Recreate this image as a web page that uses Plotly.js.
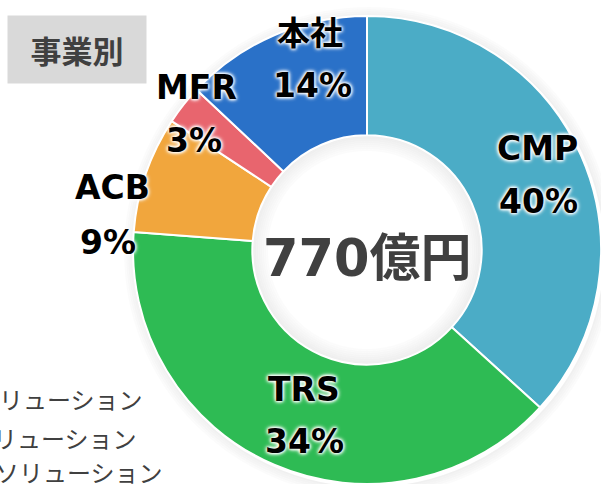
<!DOCTYPE html>
<html>
<head>
<meta charset="utf-8">
<script src="https://cdn.plot.ly/plotly-3.0.1.min.js"></script>
<style>
  html, body { margin: 0; padding: 0; background: #fff; }
  #chart { width: 601px; height: 484px; }
</style>
</head>
<body>
<div id="chart"></div>
<script>
// segments clockwise from 12 o'clock
var segments = ['CMP', 'TRS', 'ACB', 'MFR', '本社']
// slice sizes (億円) as drawn in the ring, total 770
var sales = [283, 304, 62, 21, 100]
// percentages as printed on the chart
var pctLabels = ['40%', '34%', '9%', '3%', '14%']
var segColors = ['#4BACC6', '#2EBB54', '#F1A63D', '#E8656E', '#2A71C8']
var totalLabel = '770億円'
var titleLabel = '事業別'
var legendLines = ['ソリューション', 'ソリューション', 'ソリューション']

var W = 601, H = 484
var M = {l: 133, r: 0, t: 16, b: 0}
var PW = W - M.l - M.r, PH = H - M.t - M.b

// pixel -> paper helpers
function px(x){ return (x - M.l) / PW }
function py(y){ return 1 - (y - M.t) / PH }

var labelFont = {
    family: 'DejaVu Sans, Noto Sans CJK JP, sans-serif',
    size: 33,
    color: '#000',
    weight: 700,
    shadow: '0 0 3px #fff, 0 0 3px #fff, 0 0 4px #fff, 0 0 5px #fff'
}

// label anchor points (name line, pct line)
var namePos = [[537, 148], [304, 389], [112, 187], [196, 87], [310, 34]]
var pctPos = [[538, 202], [304, 441], [108, 242], [194, 141], [312, 85]]

var annotations = []
for (let i = 0; i < segments.length; i++){
    annotations.push({
        x: px(namePos[i][0]), y: py(namePos[i][1]), xref: 'paper', yref: 'paper',
        text: segments[i], showarrow: false, font: labelFont,
        xanchor: 'center', yanchor: 'middle'
    })
    annotations.push({
        x: px(pctPos[i][0]), y: py(pctPos[i][1]), xref: 'paper', yref: 'paper',
        text: pctLabels[i], showarrow: false, font: labelFont,
        xanchor: 'center', yanchor: 'middle'
    })
}

// total in the hole
annotations.push({
    x: px(367), y: py(258), xref: 'paper', yref: 'paper',
    text: totalLabel, showarrow: false,
    font: {family: 'DejaVu Sans, Noto Sans CJK JP, sans-serif', size: 51, color: '#404040', weight: 700},
    xanchor: 'center', yanchor: 'middle'
})

// grey title box
annotations.push({
    x: px(77), y: py(49.5), xref: 'paper', yref: 'paper',
    text: titleLabel, showarrow: false,
    font: {family: 'Noto Sans CJK JP, sans-serif', size: 31, color: '#404040', weight: 700},
    bgcolor: '#D9D9D9', width: 136, height: 65,
    xanchor: 'center', yanchor: 'middle'
})

// cut-off legend text at bottom left
var legendRight = [145, 139, 165]
var legendY = [398, 437, 471]
for (let i = 0; i < legendLines.length; i++){
    annotations.push({
        x: px(legendRight[i]), y: py(legendY[i]), xref: 'paper', yref: 'paper',
        text: legendLines[i], showarrow: false,
        font: {family: 'Noto Sans CJK JP, sans-serif', size: 24, color: '#404040'},
        xanchor: 'right', yanchor: 'middle'
    })
}

// soft shadows: inside the hole and around the ring
var cx = 367, cy = 250, rIn = 115, rOut = 235
var shapes = []
for (let k = 0; k < 8; k++){
    let r = rIn - 1 - k * 2
    shapes.push({
        type: 'circle', xref: 'paper', yref: 'paper', layer: 'below',
        x0: px(cx - r), x1: px(cx + r), y0: py(cy + r), y1: py(cy - r),
        line: {color: 'rgba(0,0,0,' + (0.07 - k * 0.008).toFixed(3) + ')', width: 2}
    })
}
for (let k = 0; k < 5; k++){
    let r = rOut + 1 + k * 2
    shapes.push({
        type: 'circle', xref: 'paper', yref: 'paper', layer: 'below',
        x0: px(cx - r + 2), x1: px(cx + r + 2), y0: py(cy + r + 2), y1: py(cy - r + 2),
        line: {color: 'rgba(0,0,0,' + (0.06 - k * 0.011).toFixed(3) + ')', width: 2}
    })
}

var data = [{
    type: 'pie',
    labels: segments,
    values: sales,
    hole: 0.49,
    sort: false,
    direction: 'clockwise',
    rotation: 0,
    textinfo: 'none',
    hoverinfo: 'label+percent',
    marker: {colors: segColors, line: {color: '#fff', width: 2}}
}]

var layout = {
    width: W,
    height: H,
    margin: M,
    showlegend: false,
    paper_bgcolor: '#fff',
    plot_bgcolor: 'rgba(0,0,0,0)',
    shapes: shapes,
    annotations: annotations
}

Plotly.newPlot('chart', data, layout, {displayModeBar: false, staticPlot: true})
</script>
</body>
</html>
